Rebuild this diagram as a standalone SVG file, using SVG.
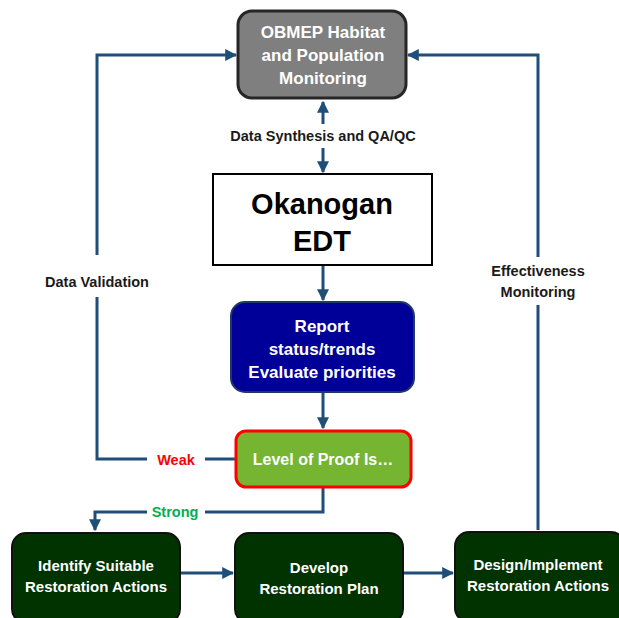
<svg xmlns="http://www.w3.org/2000/svg" width="619" height="618" viewBox="0 0 619 618">
<style>
text{font-family:"Liberation Sans",Arial,sans-serif;font-weight:bold;text-anchor:middle}
.w{fill:#fff;font-size:17px}
.b{fill:#fff;font-size:15px}
.lbl{fill:#1a1a1a;font-size:14.5px}
.con{fill:none;stroke:#1F4E79;stroke-width:3}
.g{fill:#003300;stroke:#111;stroke-width:2}
</style>
<defs>
<marker id="ah" viewBox="0 0 10 10" refX="9" refY="5" markerWidth="4" markerHeight="4" markerUnits="strokeWidth" orient="auto">
<path d="M0,0L10,5L0,10z" fill="#1F4E79"/>
</marker>
</defs>
<rect width="619" height="618" fill="#fff"/>
<g id="connectors">
<path class="con" d="M323,124V102" marker-end="url(#ah)"/>
<path class="con" d="M323,148V172" marker-end="url(#ah)"/>
<path class="con" d="M323,265V300" marker-end="url(#ah)"/>
<path class="con" d="M323,392V428" marker-end="url(#ah)"/>
<path class="con" d="M235,459H205M147,459H97V297M97,255V55H236" marker-end="url(#ah)"/>
<path class="con" d="M538,530V305M538,257V55H408" marker-end="url(#ah)"/>
<path class="con" d="M323,487V512H205M147,512H95V530" marker-end="url(#ah)"/>
<path class="con" d="M180,573H233" marker-end="url(#ah)"/>
<path class="con" d="M403,573H453" marker-end="url(#ah)"/>
</g>
<g id="labels">
<text class="lbl" x="323" y="141">Data Synthesis and QA/QC</text>
<text class="lbl" x="97" y="287">Data Validation</text>
<text class="lbl" x="538" y="276">Effectiveness</text>
<text class="lbl" x="538" y="297">Monitoring</text>
<text class="lbl" x="176" y="465" style="fill:#FF0000">Weak</text>
<text class="lbl" x="175" y="517" style="fill:#00B050">Strong</text>
</g>
<g id="obmep">
<rect x="238" y="11" width="168" height="87" rx="14" fill="#7F7F7F" stroke="#262626" stroke-width="3"/>
<text class="w" x="323" y="38">OBMEP Habitat</text>
<text class="w" x="323" y="61">and Population</text>
<text class="w" x="323" y="84">Monitoring</text>
</g>
<g id="edt">
<rect x="213" y="174" width="219" height="91" fill="#fff" stroke="#000" stroke-width="2"/>
<text x="322" y="214" font-size="29" fill="#000">Okanogan</text>
<text x="322" y="251" font-size="29" fill="#000">EDT</text>
</g>
<g id="report">
<rect x="231" y="302" width="183" height="90" rx="14" fill="#000099" stroke="#1F3864" stroke-width="2"/>
<text class="w" x="322" y="332">Report</text>
<text class="w" x="322" y="355">status/trends</text>
<text class="w" x="322" y="378">Evaluate priorities</text>
</g>
<g id="proof">
<rect x="236" y="431" width="175" height="56" rx="10" fill="#76B531" stroke="#FF0000" stroke-width="3"/>
<text class="w" x="323" y="465" style="font-size:16px">Level of Proof Is…</text>
</g>
<g id="identify">
<rect class="g" x="12" y="533" width="168" height="90" rx="14"/>
<text class="b" x="96" y="571">Identify Suitable</text>
<text class="b" x="96" y="592">Restoration Actions</text>
</g>
<g id="develop">
<rect class="g" x="235" y="533" width="168" height="90" rx="14"/>
<text class="b" x="319" y="573">Develop</text>
<text class="b" x="319" y="594">Restoration Plan</text>
</g>
<g id="design">
<rect class="g" x="455" y="532" width="170" height="90" rx="14"/>
<text class="b" x="538" y="570">Design/Implement</text>
<text class="b" x="538" y="591">Restoration Actions</text>
</g>
</svg>
